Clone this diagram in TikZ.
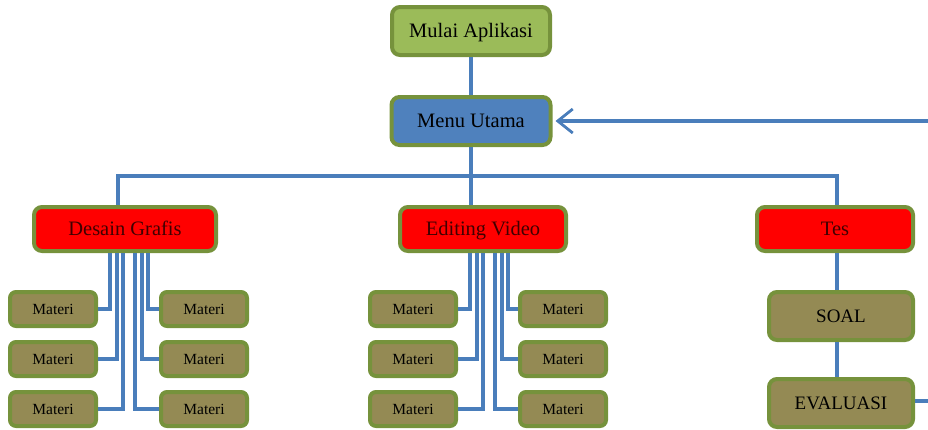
\documentclass[tikz,border=0pt]{standalone}
\usepackage{fontspec}
\setmainfont{Liberation Serif}
\usetikzlibrary{arrows.meta}
\definecolor{lineblue}{HTML}{4A7EBB}
\definecolor{boxborder}{HTML}{76923C}
\definecolor{startgreen}{HTML}{9BBB59}
\definecolor{menublue}{HTML}{4F81BD}
\definecolor{materiolive}{HTML}{948A54}
\begin{document}
\begin{tikzpicture}[x=1pt,y=-1pt,
  box/.style={draw=boxborder, line width=4pt, rounded corners=8pt, inner sep=0pt, text=black, text height=14pt, text depth=0.4pt, font=\fontsize{20.5}{22}\selectfont},
  topbox/.style={box, minimum width=158pt, minimum height=48pt},
  catbox/.style={box, fill=red, minimum height=44pt, text=black!75!red},
  matbox/.style={box, fill=materiolive, minimum width=86pt, minimum height=34pt, rounded corners=6pt, text height=10.6pt, text depth=0pt, font=\fontsize{15.5}{17}\selectfont},
  tesbox/.style={box, fill=materiolive, minimum width=144pt, minimum height=48pt, text height=12.9pt, text depth=0.4pt, font=\fontsize{19}{21}\selectfont},
  conn/.style={draw=lineblue, line width=3.2pt}
]
\useasboundingbox (0,0) rectangle (928,429);

% top
\node[topbox, fill=startgreen] (mulai) at (471,31) {Mulai Aplikasi};
\node[topbox, fill=menublue, minimum width=159pt] (menu) at (471,121) {Menu Utama};

% categories
\node[catbox, minimum width=182pt] (dg) at (125,229) {Desain Grafis};
\node[catbox, minimum width=166pt] (ev) at (483,229) {Editing Video};
\node[catbox, minimum width=156pt] (tes) at (835,229) {Tes};

% tes children
\node[tesbox] (soal) at (841,316) {SOAL};
\node[tesbox] (eval) at (841,403) {EVALUASI};

% materi for Desain Grafis
\node[matbox] (dgL1) at (53,309) {Materi};
\node[matbox] (dgL2) at (53,359) {Materi};
\node[matbox] (dgL3) at (53,409) {Materi};
\node[matbox] (dgR1) at (204,309) {Materi};
\node[matbox] (dgR2) at (204,359) {Materi};
\node[matbox] (dgR3) at (204,409) {Materi};

% materi for Editing Video
\node[matbox] (evL1) at (413,309) {Materi};
\node[matbox] (evL2) at (413,359) {Materi};
\node[matbox] (evL3) at (413,409) {Materi};
\node[matbox] (evR1) at (563,309) {Materi};
\node[matbox] (evR2) at (563,359) {Materi};
\node[matbox] (evR3) at (563,409) {Materi};

% helper coordinates
\coordinate (bus) at (471,176);
\coordinate (tx) at (837,0);
\coordinate (rt) at (934,121);

% connectors
\draw[conn] (mulai.south) -- (menu.north);
\draw[conn] (menu.south) -- (bus);
\draw[conn] ([xshift=-7pt]dg.north) |- (bus) -| ([xshift=2pt]tes.north);
\draw[conn] (bus) -- (ev.north -| bus);
\draw[conn] (tes.south -| tx) -- (soal.north -| tx);
\draw[conn] (soal.south -| tx) -- (eval.north -| tx);
\draw[conn, -{Straight Barb[length=15pt,width=24pt,line width=2.8pt]}] ([yshift=2pt]eval.east) -| (rt) -- ([xshift=3pt]menu.east);

% Desain Grafis materi connectors
\draw[conn] ([xshift=-15pt]dg.south) |- (dgL1);
\draw[conn] ([xshift=-8pt]dg.south) |- (dgL2);
\draw[conn] ([xshift=-2pt]dg.south) |- (dgL3);
\draw[conn] ([xshift=23pt]dg.south) |- (dgR1);
\draw[conn] ([xshift=17pt]dg.south) |- (dgR2);
\draw[conn] ([xshift=10pt]dg.south) |- (dgR3);

% Editing Video materi connectors
\draw[conn] ([xshift=-13pt]ev.south) |- (evL1);
\draw[conn] ([xshift=-6pt]ev.south) |- (evL2);
\draw[conn] ([xshift=0pt]ev.south) |- (evL3);
\draw[conn] ([xshift=25pt]ev.south) |- (evR1);
\draw[conn] ([xshift=19pt]ev.south) |- (evR2);
\draw[conn] ([xshift=12pt]ev.south) |- (evR3);
\end{tikzpicture}
\end{document}
